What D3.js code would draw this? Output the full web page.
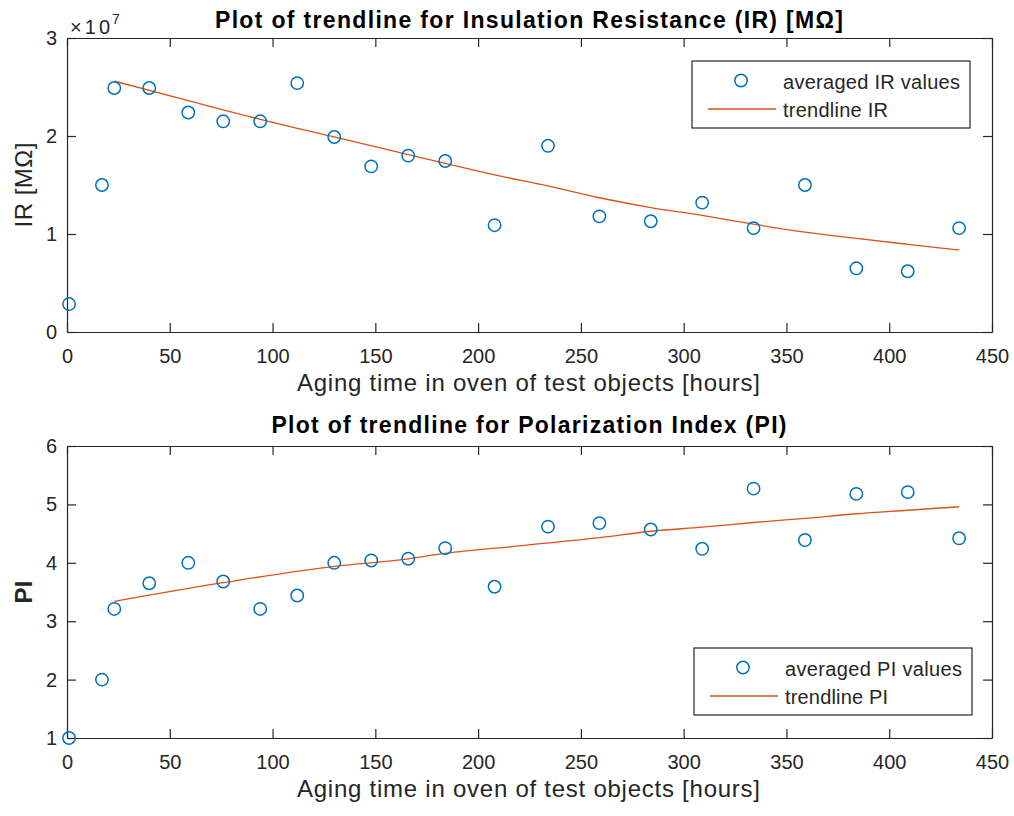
<!DOCTYPE html>
<html>
<head>
<meta charset="utf-8">
<script src="https://cdn.jsdelivr.net/npm/d3@7"></script>
<style>
  body { margin: 0; background: #fff; }
  svg { font-family: "Liberation Sans", Arial, sans-serif; }
  .tick text { fill: #262626; }
</style>
</head>
<body>
<div id="chart"></div>
<script>
// aging time of each measurement [hours]
const hours = [1, 17, 23, 40, 59, 76, 94, 112, 130, 148, 166, 184, 208, 234, 259, 284, 309, 334, 359, 384, 409, 434];

// averaged insulation resistance values (x 1e7)
const irValues = [0.285, 1.50, 2.49, 2.49, 2.24, 2.15, 2.15, 2.54, 1.99, 1.69, 1.80, 1.745, 1.09, 1.90, 1.18, 1.13, 1.32, 1.06, 1.50, 0.65, 0.62, 1.06];

// averaged polarization index values
const piValues = [1.0, 2.0, 3.21, 3.65, 4.0, 3.68, 3.21, 3.44, 4.0, 4.04, 4.07, 4.25, 3.59, 4.62, 4.68, 4.57, 4.24, 5.27, 4.39, 5.18, 5.21, 4.42];

// trendline readings
const irTrendX = [23, 59, 94, 130, 166, 211, 234, 259, 284, 309, 334, 359, 384, 409, 434];
const irTrendY = [2.56, 2.36, 2.17, 1.99, 1.81, 1.59, 1.49, 1.37, 1.27, 1.19, 1.10, 1.02, 0.955, 0.895, 0.837];
const piTrendX = [23, 76, 130, 162, 184, 220, 259, 284, 309, 334, 359, 384, 409, 434];
const piTrendY = [3.34, 3.66, 3.94, 4.05, 4.16, 4.29, 4.43, 4.54, 4.61, 4.69, 4.76, 4.84, 4.90, 4.96];

const xTicks = [0, 50, 100, 150, 200, 250, 300, 350, 400, 450];
const irTicks = [0, 1, 2, 3];
const piTicks = [1, 2, 3, 4, 5, 6];

const blue = "#0072BD", orange = "#D95319", axisCol = "#262626";

const width = 1014, height = 816;
const svg = d3.select("#chart").append("svg")
    .attr("width", width)
    .attr("height", height);

function drawPanel(opt){
    const left = 67, right = 992;
    const x = d3.scaleLinear().domain([0, 450]).range([left, right]);
    const y = d3.scaleLinear().domain(opt.yDomain).range([opt.bottom, opt.top]);
    const g = svg.append("g");
    const tk = 9;
    const fmt = d3.format("d");

    // axes (ticks inward, box on all sides)
    const xb = g.append("g").attr("transform", `translate(0,${opt.bottom})`)
        .call(d3.axisBottom(x).tickValues(xTicks).tickFormat(fmt).tickSizeInner(-tk).tickSizeOuter(0).tickPadding(17));
    const xt = g.append("g").attr("transform", `translate(0,${opt.top})`)
        .call(d3.axisTop(x).tickValues(xTicks).tickSizeInner(-tk).tickSizeOuter(0).tickFormat(""));
    const yl = g.append("g").attr("transform", `translate(${left},0)`)
        .call(d3.axisLeft(y).tickValues(opt.yTicks).tickFormat(fmt).tickSizeInner(-tk).tickSizeOuter(0).tickPadding(10));
    const yr = g.append("g").attr("transform", `translate(${right},0)`)
        .call(d3.axisRight(y).tickValues(opt.yTicks).tickSizeInner(-tk).tickSizeOuter(0).tickFormat(""));
    [xb, xt, yl, yr].forEach(a => {
        a.selectAll("path.domain").attr("stroke", axisCol).attr("stroke-width", 1.2);
        a.selectAll(".tick line").attr("stroke", axisCol).attr("stroke-width", 1.2);
        a.selectAll(".tick text").attr("font-size", 20).attr("font-family", "Liberation Sans, Arial, sans-serif");
    });
    xb.selectAll(".tick text").attr("dy", "0.71em");

    // trend line
    const line = d3.line().x(d => x(d[0])).y(d => y(d[1])).curve(d3.curveMonotoneX);
    g.append("path")
        .datum(d3.zip(opt.trendX, opt.trendY))
        .attr("d", line)
        .attr("fill", "none")
        .attr("stroke", orange)
        .attr("stroke-width", 1.3);

    // markers
    g.selectAll("circle.pt")
        .data(d3.zip(hours, opt.values))
        .join("circle")
        .attr("class", "pt")
        .attr("cx", d => x(d[0]))
        .attr("cy", d => y(d[1]))
        .attr("r", 6.2)
        .attr("fill", "none")
        .attr("stroke", blue)
        .attr("stroke-width", 1.5);

    // title
    g.append("text")
        .attr("x", 529)
        .attr("y", opt.titleY)
        .attr("text-anchor", "middle")
        .attr("font-size", 23)
        .attr("font-weight", "bold")
        .attr("fill", "#000")
        .attr("textLength", opt.titleLen)
        .attr("lengthAdjust", "spacing")
        .text(opt.title);

    // x label
    g.append("text")
        .attr("x", 528.5)
        .attr("y", opt.bottom + 59)
        .attr("text-anchor", "middle")
        .attr("font-size", 24)
        .attr("fill", axisCol)
        .attr("textLength", 463)
        .attr("lengthAdjust", "spacing")
        .text("Aging time in oven of test objects [hours]");

    // y label
    g.append("text")
        .attr("transform", `translate(32,${(opt.top + opt.bottom) / 2}) rotate(-90)`)
        .attr("text-anchor", "middle")
        .attr("font-size", 24)
        .attr("font-weight", opt.yBold ? "bold" : "normal")
        .attr("fill", axisCol)
        .attr("textLength", opt.yLabelLen)
        .attr("lengthAdjust", "spacing")
        .text(opt.yLabel);

    // legend
    const L = opt.legend;
    g.append("rect")
        .attr("x", L.x).attr("y", L.y).attr("width", 278).attr("height", 67)
        .attr("fill", "#fff").attr("stroke", axisCol).attr("stroke-width", 1.2);
    g.append("circle")
        .attr("cx", L.x + 49).attr("cy", L.y + 19.5).attr("r", 6.2)
        .attr("fill", "none").attr("stroke", blue).attr("stroke-width", 1.5);
    g.append("line")
        .attr("x1", L.x + 16).attr("x2", L.x + 84)
        .attr("y1", L.y + 48).attr("y2", L.y + 48)
        .attr("stroke", orange).attr("stroke-width", 1.3);
    g.selectAll("text.leg")
        .data(opt.legendText)
        .join("text")
        .attr("class", "leg")
        .attr("x", L.x + 91)
        .attr("y", (d, i) => L.y + 28 + i * 27.5)
        .attr("font-size", 20)
        .attr("fill", axisCol)
        .attr("textLength", (d, i) => opt.legendLen[i])
        .attr("lengthAdjust", "spacing")
        .text(d => d);

    return g;
}

const irPanel = drawPanel({
    top: 38, bottom: 332, yDomain: [0, 3], yTicks: irTicks,
    values: irValues, trendX: irTrendX, trendY: irTrendY,
    title: "Plot of trendline for Insulation Resistance (IR) [M\u03A9]",
    titleY: 28, titleLen: 628,
    yLabel: "IR [M\u03A9]", yLabelLen: 85,
    legend: {x: 692, y: 61},
    legendText: ["averaged IR values", "trendline IR"],
    legendLen: [177, 105]
});

// exponent label
irPanel.append("text")
    .attr("x", 70).attr("y", 34)
    .attr("font-size", 20)
    .attr("fill", axisCol)
    .attr("textLength", 40)
    .attr("lengthAdjust", "spacing")
    .text("\u00D710");
irPanel.append("text")
    .attr("x", 112).attr("y", 24)
    .attr("font-size", 14)
    .attr("fill", axisCol)
    .text("7");

drawPanel({
    top: 446, bottom: 738, yDomain: [1, 6], yTicks: piTicks,
    values: piValues, trendX: piTrendX, trendY: piTrendY,
    title: "Plot of trendline for Polarization Index (PI)",
    titleY: 433, titleLen: 515,
    yLabel: "PI", yLabelLen: 23, yBold: true,
    legend: {x: 694, y: 648},
    legendText: ["averaged PI values", "trendline PI"],
    legendLen: [177, 103]
});
</script>
</body>
</html>
